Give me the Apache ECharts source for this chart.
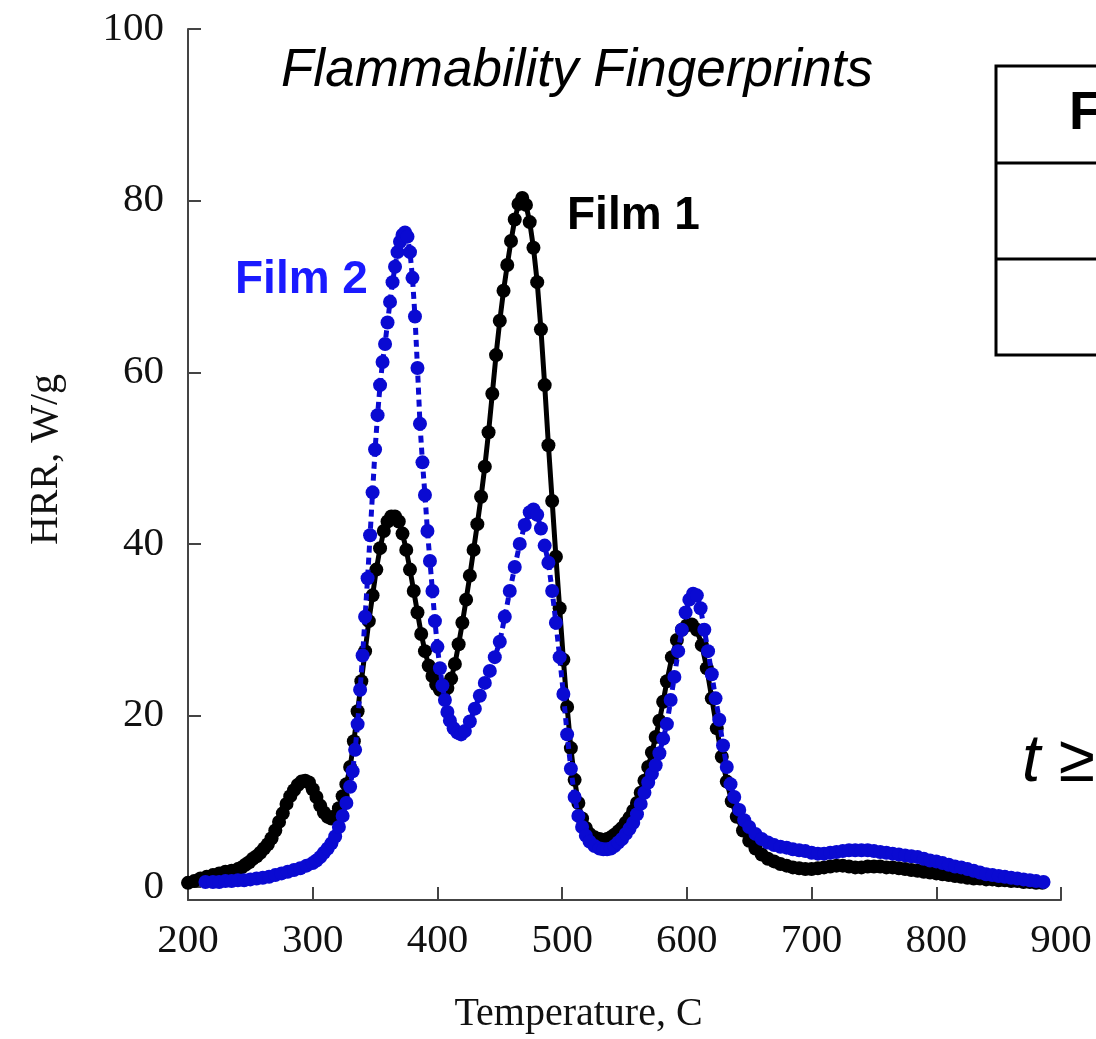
<!DOCTYPE html>
<html>
<head>
<meta charset="utf-8">
<script src="https://cdn.jsdelivr.net/npm/echarts@6/dist/echarts.min.js"></script>
<style>
html,body{margin:0;padding:0;background:#fff;}
#chart{width:1096px;height:1039px;}
</style>
</head>
<body>
<div id="chart"></div>
<script>
// ---- data ----
const yTicks = [0, 20, 40, 60, 80, 100];

const tempFilm1 = [200,205,210,215,220,225,230,235,240,243,246,249,252,255,258,261,264,267,270,273,276,279,282,285,288,291,294,297,300,303,306,309,312,315,318,321,324,327,330,333,336,339,342,345,348,351,354,357,360,363,366,369,372,375,378,381,384,387,390,393,396,399,402,405,408,411,414,417,420,423,426,429,432,435,438,441,444,447,450,453,456,459,462,465,468,471,474,477,480,483,486,489,492,495,498,501,504,507,510,513,516,519,522,526,530,533,536,539,542,545,548,551,554,557,560,563,566,569,572,575,578,581,584,588,592,596,600,604,608,612,616,620,624,628,632,636,640,645,650,655,660,665,670,675,680,685,690,695,700,705,710,715,720,725,730,735,740,745,750,755,760,765,770,775,780,785,790,795,800,805,810,815,820,825,830,835,840,845,850,855,860,865,870,875,880,885];
const hrrFilm1 = [0.5,0.7,1.0,1.2,1.4,1.6,1.8,1.9,2.1,2.3,2.6,2.9,3.3,3.6,4.0,4.5,5.0,5.7,6.6,7.6,8.6,9.7,10.6,11.3,11.9,12.3,12.4,12.2,11.4,10.5,9.5,8.7,8.2,8.0,8.3,9.2,10.6,12.0,14.0,17.0,20.5,24.0,27.5,31.0,34.0,37.0,39.5,41.5,42.6,43.2,43.2,42.6,41.2,39.3,37.0,34.5,32.0,29.5,27.5,25.8,24.6,23.6,23.0,22.8,23.2,24.3,26.0,28.3,30.8,33.5,36.3,39.3,42.3,45.5,49.0,53.0,57.5,62.0,66.0,69.5,72.5,75.3,77.8,79.6,80.3,79.5,77.5,74.5,70.5,65.0,58.5,51.5,45.0,38.5,32.5,26.5,21.0,16.2,12.5,9.8,8.0,6.9,6.2,5.8,5.6,5.5,5.6,5.8,6.1,6.5,6.9,7.5,8.1,8.9,9.8,11.0,12.4,14.0,15.7,17.5,19.4,21.6,24.0,26.8,28.8,30.0,30.5,30.6,30.0,28.2,25.5,22.0,18.5,15.2,12.3,10.0,8.2,6.6,5.4,4.5,3.8,3.3,3.0,2.7,2.5,2.3,2.2,2.1,2.1,2.2,2.3,2.4,2.5,2.5,2.4,2.3,2.3,2.4,2.4,2.4,2.3,2.3,2.2,2.1,2.0,1.9,1.8,1.7,1.6,1.5,1.4,1.3,1.2,1.1,1.0,1.0,0.9,0.9,0.8,0.8,0.7,0.7,0.6,0.6,0.5,0.5];

const tempFilm2 = [214,220,225,230,235,240,245,250,255,260,265,270,275,280,285,290,295,300,303,306,309,312,315,318,321,324,327,330,332,334,336,338,340,342,344,346,348,350,352,354,356,358,360,362,364,366,368,370,372,374,376,378,380,382,384,386,388,390,392,394,396,398,400,402,404,406,408,410,413,416,419,422,426,430,434,438,442,446,450,454,458,462,466,470,474,477,480,483,486,489,492,495,498,501,504,507,510,513,516,519,522,526,530,533,536,539,542,545,548,551,554,557,560,563,566,569,572,575,578,581,584,587,590,593,596,599,602,605,608,611,614,617,620,623,626,629,632,635,638,642,646,650,655,660,665,670,675,680,685,690,695,700,705,710,715,720,725,730,735,740,745,750,755,760,765,770,775,780,785,790,795,800,805,810,815,820,825,830,835,840,845,850,855,860,865,870,875,880,886];
const hrrFilm2 = [0.6,0.6,0.6,0.7,0.7,0.8,0.8,0.9,1.0,1.1,1.2,1.4,1.6,1.8,2.0,2.2,2.5,2.8,3.1,3.5,4.0,4.5,5.1,5.9,7.0,8.3,9.8,11.7,13.5,16.0,19.0,23.0,27.0,31.5,36.0,41.0,46.0,51.0,55.0,58.5,61.2,63.3,65.8,68.2,70.5,72.3,74.0,75.2,76.0,76.3,75.8,74.0,71.0,66.5,60.5,54.0,49.5,45.7,41.5,38.0,34.5,31.0,28.0,25.5,23.5,21.8,20.4,19.4,18.5,18.0,17.8,18.2,19.3,20.8,22.3,23.8,25.2,26.8,28.6,31.5,34.5,37.3,40.0,42.2,43.7,44.0,43.4,41.8,39.8,37.8,34.5,30.8,26.8,22.5,17.8,13.8,10.5,8.3,7.0,6.0,5.3,4.8,4.5,4.4,4.4,4.5,4.8,5.2,5.6,6.2,6.8,7.5,8.5,9.7,11.0,12.2,13.2,14.2,15.6,17.3,19.0,21.8,24.5,27.5,30.0,32.0,33.5,34.2,34.0,32.5,30.0,27.5,24.8,22.0,19.5,16.5,14.0,12.0,10.5,9.0,7.8,7.0,6.2,5.6,5.2,4.9,4.7,4.6,4.4,4.3,4.2,4.0,3.9,3.9,4.0,4.1,4.2,4.3,4.3,4.3,4.3,4.2,4.1,4.0,3.9,3.8,3.7,3.6,3.5,3.3,3.1,3.0,2.8,2.6,2.4,2.3,2.1,1.9,1.7,1.5,1.4,1.3,1.2,1.1,1.0,0.9,0.8,0.7,0.6];

const zip = (xs, ys) => xs.map((x, i) => [x, ys[i]]);

const serif = 'Liberation Serif';
const sans = 'Liberation Sans';

const chart = echarts.init(document.getElementById('chart'), null, {renderer: 'canvas'});
chart.setOption({
  animation: false,
  backgroundColor: '#fff',
  grid: {left: 188, right: 35, top: 29, bottom: 137, containLabel: false},
  xAxis: {
    type: 'value', min: 200, max: 900, interval: 100,
    name: 'Temperature, C', nameLocation: 'middle', nameGap: 94,
    nameTextStyle: {fontFamily: serif, fontSize: 40, color: '#111', padding: [0, 92, 0, 0]},
    axisLine: {onZero: false, lineStyle: {color: '#444', width: 2}},
    axisTick: {inside: true, length: 13, lineStyle: {color: '#444', width: 2}},
    axisLabel: {fontFamily: serif, fontSize: 41, color: '#111', margin: 21},
    splitLine: {show: false}
  },
  yAxis: {
    type: 'value', min: -1.5, max: 100,
    name: 'HRR, W/g', nameLocation: 'middle', nameGap: 122, nameRotate: 90,
    nameTextStyle: {fontFamily: serif, fontSize: 40, color: '#111', padding: [0, 0, 0, 10]},
    axisLine: {show: true, lineStyle: {color: '#444', width: 2}},
    axisTick: {inside: true, length: 13, customValues: yTicks, lineStyle: {color: '#444', width: 2}},
    axisLabel: {fontFamily: serif, fontSize: 41, color: '#111', margin: 24, customValues: yTicks},
    splitLine: {show: false}
  },
  series: [
    {
      name: 'Film 1', type: 'line', data: zip(tempFilm1, hrrFilm1),
      symbol: 'circle', symbolSize: 14, showSymbol: true,
      itemStyle: {color: '#000'},
      lineStyle: {color: '#000', width: 5, type: 'solid'},
      z: 2
    },
    {
      name: 'Film 2', type: 'line', data: zip(tempFilm2, hrrFilm2),
      symbol: 'circle', symbolSize: 14, showSymbol: true,
      itemStyle: {color: '#0a0ad2'},
      lineStyle: {color: '#0a0ad2', width: 5, type: [7, 5]},
      z: 3
    }
  ],
  graphic: [
    {type: 'text', left: 281, top: 45, style: {text: 'Flammability Fingerprints', font: 'italic 53px ' + sans, fill: '#000'}},
    {type: 'text', left: 567, top: 193, style: {text: 'Film 1', font: 'bold 46px ' + sans, fill: '#000'}},
    {type: 'text', left: 235, top: 257, style: {text: 'Film 2', font: 'bold 46px ' + sans, fill: '#1a1aff'}},
    {type: 'rect', shape: {x: 996, y: 66, width: 200, height: 289}, style: {fill: 'none', stroke: '#000', lineWidth: 3}},
    {type: 'line', shape: {x1: 996, y1: 163, x2: 1100, y2: 163}, style: {stroke: '#000', lineWidth: 3}},
    {type: 'line', shape: {x1: 996, y1: 259, x2: 1100, y2: 259}, style: {stroke: '#000', lineWidth: 3}},
    {type: 'text', left: 1069, top: 87, style: {text: 'F', font: 'bold 54px ' + sans, fill: '#000'}},
    {type: 'text', left: 1022, top: 730, style: {text: 't ≥', font: 'italic 66px ' + sans, fill: '#000'}}
  ]
});
</script>
</body>
</html>
